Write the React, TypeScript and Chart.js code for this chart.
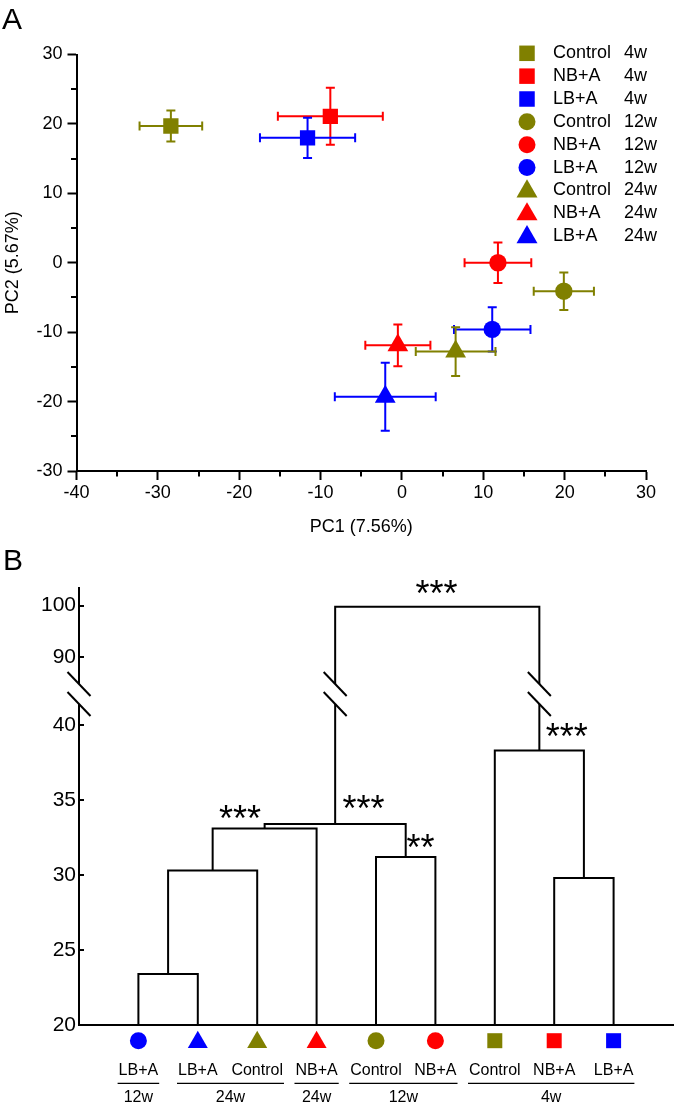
import React, { useEffect, useRef } from 'react';
import { Chart, registerables, LinearScale } from 'chart.js';

Chart.register(...registerables);

const FONT = '"Liberation Sans", Arial, Helvetica, sans-serif';
Chart.defaults.font.family = FONT;
Chart.defaults.color = '#000';

const OLIVE = '#808000';
const RED = '#ff0000';
const BLUE = '#0000ff';

// ---------------- Panel A data (PCA) ----------------
const seriesGroup = ['Control', 'NB+A', 'LB+A', 'Control', 'NB+A', 'LB+A', 'Control', 'NB+A', 'LB+A'];
const seriesTime = ['4w', '4w', '4w', '12w', '12w', '12w', '24w', '24w', '24w'];
const seriesColor = [OLIVE, RED, BLUE, OLIVE, RED, BLUE, OLIVE, RED, BLUE];
const seriesShape = ['rect', 'rect', 'rect', 'circle', 'circle', 'circle', 'triangle', 'triangle', 'triangle'];
const pc1Mean = [-28.4, -8.8, -11.6, 19.9, 11.8, 11.1, 6.6, -0.5, -2.05];
const pc1Err = [3.85, 6.45, 5.85, 3.7, 4.1, 4.7, 4.9, 4.0, 6.2];
const pc2Mean = [19.7, 21.1, 18.0, -4.1, 0.0, -9.6, -12.8, -11.9, -19.3];
const pc2Err = [2.25, 4.1, 2.9, 2.7, 2.9, 3.2, 3.5, 3.0, 4.9];
const pcXTitle = 'PC1 (7.56%)';
const pcYTitle = 'PC2 (5.67%)';

// ---------------- Panel B data (dendrogram) ----------------
const leafGroup = ['LB+A', 'LB+A', 'Control', 'NB+A', 'Control', 'NB+A', 'Control', 'NB+A', 'LB+A'];
const leafColor = [BLUE, BLUE, OLIVE, RED, OLIVE, RED, OLIVE, RED, BLUE];
const leafShape = ['circle', 'triangle', 'triangle', 'triangle', 'circle', 'circle', 'rect', 'rect', 'rect'];
// merges: node ids 0..8 are leaves, 9.. are merges in order
const mergeLeft = [0, 9, 10, 4, 11, 7, 6, 13];
const mergeRight = [1, 2, 3, 5, 12, 8, 14, 15];
const mergeHeight = [23.4, 30.3, 33.1, 31.2, 33.4, 29.8, 38.3, 99.8];
const yTicksB = [20, 25, 30, 35, 40, 90, 100];
const timeGroupLabel = ['12w', '24w', '24w', '12w', '4w'];
const timeGroupFirst = [0, 1, 3, 4, 6];
const timeGroupLast = [0, 2, 3, 5, 8];
const starText = ['***', '***', '***', '***', '**'];
const starX = [6.02, 8.21, 4.79, 2.71, 5.75];
const starY = [104.0, 39.75, 34.95, 34.28, 32.39];

// broken axis definition
const BREAK_LO = 40;
const BREAK_HI = 90;
const BREAK_GAP = 4.55;
const UPPER_RATIO = 0.34;
const BREAK_MARKS = [70, 55.4];

function compress(v: number) {
  if (v <= BREAK_LO) return v;
  if (v >= BREAK_HI) return BREAK_LO + BREAK_GAP + (v - BREAK_HI) * UPPER_RATIO;
  return BREAK_LO + ((v - BREAK_LO) / (BREAK_HI - BREAK_LO)) * BREAK_GAP;
}

class BrokenLinearScale extends LinearScale {
  static id = 'brokenLinear';
  getPixelForValue(value: number) {
    return super.getPixelForValue(compress(value));
  }
}
Chart.register(BrokenLinearScale as any);

function drawMarker(ctx: CanvasRenderingContext2D, shape: string, x: number, y: number, size: number, color: string) {
  ctx.fillStyle = color;
  ctx.beginPath();
  if (shape === 'rect') {
    ctx.rect(x - size / 2, y - size / 2, size, size);
  } else if (shape === 'circle') {
    ctx.arc(x, y, size / 2, 0, Math.PI * 2);
  } else {
    const r = size / Math.sqrt(3);
    ctx.moveTo(x, y - r);
    ctx.lineTo(x + size / 2, y + r / 2);
    ctx.lineTo(x - size / 2, y + r / 2);
    ctx.closePath();
  }
  ctx.fill();
}

const pointRadiusFor: Record<string, number> = { rect: 10.8, circle: 8.7, triangle: 12 };
const legendSizeFor: Record<string, number> = { rect: 15.5, circle: 17, triangle: 21 };
const leafSizeFor: Record<string, number> = { rect: 15, circle: 17, triangle: 20 };

function configA(): any {
  const datasets = seriesGroup.map((g, i) => ({
    label: `${g} ${seriesTime[i]}`,
    data: [{ x: pc1Mean[i], y: pc2Mean[i] }],
    pointStyle: seriesShape[i],
    pointRadius: pointRadiusFor[seriesShape[i]],
    backgroundColor: seriesColor[i],
    borderColor: seriesColor[i],
    pointBorderWidth: 0,
    borderWidth: 0,
  }));

  const errorBars = {
    id: 'errorBars',
    beforeDatasetsDraw(chart: any) {
      const { ctx } = chart;
      const xs = chart.scales.x;
      const ys = chart.scales.y;
      ctx.save();
      ctx.lineWidth = 2;
      const cap = 4.5;
      seriesGroup.forEach((_, i) => {
        ctx.strokeStyle = seriesColor[i];
        const cx = xs.getPixelForValue(pc1Mean[i]);
        const cy = ys.getPixelForValue(pc2Mean[i]);
        const x1 = xs.getPixelForValue(pc1Mean[i] - pc1Err[i]);
        const x2 = xs.getPixelForValue(pc1Mean[i] + pc1Err[i]);
        const y1 = ys.getPixelForValue(pc2Mean[i] + pc2Err[i]);
        const y2 = ys.getPixelForValue(pc2Mean[i] - pc2Err[i]);
        ctx.beginPath();
        ctx.moveTo(x1, cy); ctx.lineTo(x2, cy);
        ctx.moveTo(x1, cy - cap); ctx.lineTo(x1, cy + cap);
        ctx.moveTo(x2, cy - cap); ctx.lineTo(x2, cy + cap);
        ctx.moveTo(cx, y1); ctx.lineTo(cx, y2);
        ctx.moveTo(cx - cap, y1); ctx.lineTo(cx + cap, y1);
        ctx.moveTo(cx - cap, y2); ctx.lineTo(cx + cap, y2);
        ctx.stroke();
      });
      ctx.restore();
    },
  };

  const decorA = {
    id: 'decorA',
    afterDraw(chart: any) {
      const { ctx, chartArea: ca } = chart;
      const xs = chart.scales.x;
      const ys = chart.scales.y;
      ctx.save();
      // minor ticks
      ctx.strokeStyle = '#000';
      ctx.lineWidth = 2;
      for (let v = xs.min + 5; v < xs.max; v += 10) {
        const px = Math.round(xs.getPixelForValue(v));
        ctx.beginPath(); ctx.moveTo(px, ca.bottom); ctx.lineTo(px, ca.bottom + 5.5); ctx.stroke();
      }
      for (let v = ys.min + 5; v < ys.max; v += 10) {
        const py = Math.round(ys.getPixelForValue(v));
        ctx.beginPath(); ctx.moveTo(ca.left, py); ctx.lineTo(ca.left - 5.5, py); ctx.stroke();
      }
      // legend
      ctx.textBaseline = 'middle';
      ctx.textAlign = 'left';
      ctx.font = `18px ${FONT}`;
      seriesGroup.forEach((g, i) => {
        const y = 53.3 + i * 22.85;
        drawMarker(ctx, seriesShape[i], 527, seriesShape[i] === 'triangle' ? y + 1 : y, legendSizeFor[seriesShape[i]], seriesColor[i]);
        ctx.fillStyle = '#000';
        ctx.fillText(g, 553, y);
        ctx.fillText(seriesTime[i], 624, y);
      });
      // panel letter
      ctx.font = `30px ${FONT}`;
      ctx.textBaseline = 'alphabetic';
      ctx.fillText('A', 2, 28.5);
      ctx.restore();
    },
  };

  const axisCommon = {
    grid: { drawOnChartArea: false, drawTicks: true, tickLength: 9, tickWidth: 2, tickColor: '#000' },
    border: { display: true, color: '#000', width: 2 },
  };

  return {
    type: 'scatter',
    data: { datasets },
    options: {
      responsive: false,
      animation: false,
      events: [],
      layout: { padding: { top: 54.5, right: 29, bottom: 0, left: 0 } },
      plugins: { legend: { display: false }, tooltip: { enabled: false } },
      scales: {
        x: {
          type: 'linear',
          min: -40,
          max: 30,
          ticks: { stepSize: 10, font: { size: 18 }, color: '#000', padding: 2 },
          title: { display: true, text: pcXTitle, font: { size: 18 }, color: '#000', padding: { top: 0, bottom: 2.2 } },
          afterFit: (s: any) => { s.height = 69; },
          ...axisCommon,
        },
        y: {
          type: 'linear',
          min: -30,
          max: 30,
          ticks: { stepSize: 10, font: { size: 18 }, color: '#000', padding: 5 },
          title: { display: true, text: pcYTitle, font: { size: 18 }, color: '#000', padding: { top: 2.7, bottom: 0 } },
          afterFit: (s: any) => { s.width = 76.5; },
          ...axisCommon,
        },
      },
    },
    plugins: [errorBars, decorA],
  };
}

function configB(): any {
  const nodeX: number[] = leafGroup.map((_, i) => i + 1);
  const nodeH: number[] = leafGroup.map(() => 20);
  const datasets: any[] = [];
  mergeLeft.forEach((a, k) => {
    const b = mergeRight[k];
    const h = mergeHeight[k];
    nodeX.push((nodeX[a] + nodeX[b]) / 2);
    nodeH.push(h);
    datasets.push({
      data: [
        { x: nodeX[a], y: nodeH[a] },
        { x: nodeX[a], y: h },
        { x: nodeX[b], y: h },
        { x: nodeX[b], y: nodeH[b] },
      ],
      showLine: true,
      borderColor: '#000',
      borderWidth: 2,
      borderJoinStyle: 'miter',
      pointRadius: 0,
      tension: 0,
    });
  });

  // lines that cross the axis break
  const breakX: number[] = [];
  mergeLeft.forEach((a, k) => {
    const b = mergeRight[k];
    if (mergeHeight[k] >= BREAK_HI) {
      [a, b].forEach((c) => { if (nodeH[c] <= BREAK_LO) breakX.push(nodeX[c]); });
    }
  });

  const decorB = {
    id: 'decorB',
    afterDraw(chart: any) {
      const { ctx, chartArea: ca } = chart;
      const xs = chart.scales.x;
      const ys = chart.scales.y;
      ctx.save();
      ctx.strokeStyle = '#000';
      ctx.lineWidth = 2;
      // inward ticks
      yTicksB.forEach((v) => {
        const py = Math.round(ys.getPixelForValue(v));
        ctx.beginPath(); ctx.moveTo(ca.left, py); ctx.lineTo(ca.left + 5, py); ctx.stroke();
      });
      // breaks
      const yb1 = ys.getPixelForValue(BREAK_MARKS[0]);
      const yb2 = ys.getPixelForValue(BREAK_MARKS[1]);
      const bxs = [ca.left, ...breakX.map((v) => xs.getPixelForValue(v))];
      bxs.forEach((bx) => {
        ctx.fillStyle = '#fff';
        ctx.fillRect(bx - 4, yb1, 8, yb2 - yb1);
        [yb1, yb2].forEach((cy) => {
          ctx.beginPath(); ctx.moveTo(bx - 11.5, cy - 12); ctx.lineTo(bx + 11.5, cy + 12); ctx.stroke();
        });
      });
      // leaf markers and labels
      ctx.font = `16px ${FONT}`;
      ctx.textAlign = 'center';
      ctx.textBaseline = 'middle';
      const left: number[] = [];
      const right: number[] = [];
      leafGroup.forEach((g, i) => {
        const px = xs.getPixelForValue(i + 1);
        const my = ca.bottom + 15.7;
        drawMarker(ctx, leafShape[i], px, leafShape[i] === 'triangle' ? my + 1.5 : my, leafSizeFor[leafShape[i]], leafColor[i]);
        ctx.fillStyle = '#000';
        ctx.fillText(g, px, ca.bottom + 45.7);
        const w = ctx.measureText(g).width;
        left.push(px - w / 2);
        right.push(px + w / 2);
      });
      // time groups
      ctx.lineWidth = 1.3;
      timeGroupLabel.forEach((t, j) => {
        const x1 = left[timeGroupFirst[j]] - 1;
        const x2 = right[timeGroupLast[j]] + 1;
        const ly = ca.bottom + 58.3;
        ctx.beginPath(); ctx.moveTo(x1, ly); ctx.lineTo(x2, ly); ctx.stroke();
        ctx.fillText(t, (x1 + x2) / 2, ca.bottom + 73);
      });
      // stars
      const fs = 36;
      ctx.font = `${fs}px ${FONT}`;
      ctx.textBaseline = 'alphabetic';
      starText.forEach((s, i) => {
        const px = xs.getPixelForValue(starX[i]);
        const py = ys.getPixelForValue(starY[i]);
        ctx.fillText(s, px, py + 0.575 * fs);
      });
      // panel letter
      ctx.textAlign = 'left';
      ctx.font = `30px ${FONT}`;
      ctx.fillText('B', 3, 30);
      ctx.restore();
    },
  };

  return {
    type: 'scatter',
    data: { datasets },
    options: {
      responsive: false,
      animation: false,
      events: [],
      layout: { padding: { top: 48, right: 2, bottom: 0, left: 0 } },
      plugins: { legend: { display: false }, tooltip: { enabled: false } },
      scales: {
        x: {
          type: 'linear',
          min: 0,
          max: 10,
          ticks: { display: false },
          grid: { display: false, drawTicks: false },
          border: { display: true, color: '#000', width: 2 },
          afterFit: (s: any) => { s.height = 81; },
        },
        y: {
          type: 'brokenLinear',
          min: 20,
          max: 49.13,
          bounds: 'data',
          afterBuildTicks: (s: any) => { s.ticks = yTicksB.map((v) => ({ value: v })); },
          ticks: { font: { size: 21 }, color: '#000', padding: 3, autoSkip: false, callback: (v: any) => String(v) },
          grid: { display: false, drawTicks: false },
          border: { display: true, color: '#000', width: 2 },
          afterFit: (s: any) => { s.width = 79; },
        },
      },
    },
    plugins: [decorB],
  };
}

export default function App() {
  const refA = useRef<HTMLCanvasElement>(null);
  const refB = useRef<HTMLCanvasElement>(null);
  useEffect(() => {
    const a = new Chart(refA.current as HTMLCanvasElement, configA());
    const b = new Chart(refB.current as HTMLCanvasElement, configB());
    return () => {
      a.destroy();
      b.destroy();
    };
  }, []);
  return (
    <div style={{ position: 'absolute', left: 0, top: 0, width: 675, height: 1106, background: '#fff', overflow: 'hidden' }}>
      <canvas ref={refA} width={675} height={540} style={{ position: 'absolute', left: 0, top: 0, width: 675, height: 540 }} />
      <canvas ref={refB} width={675} height={566} style={{ position: 'absolute', left: 0, top: 540, width: 675, height: 566 }} />
    </div>
  );
}
